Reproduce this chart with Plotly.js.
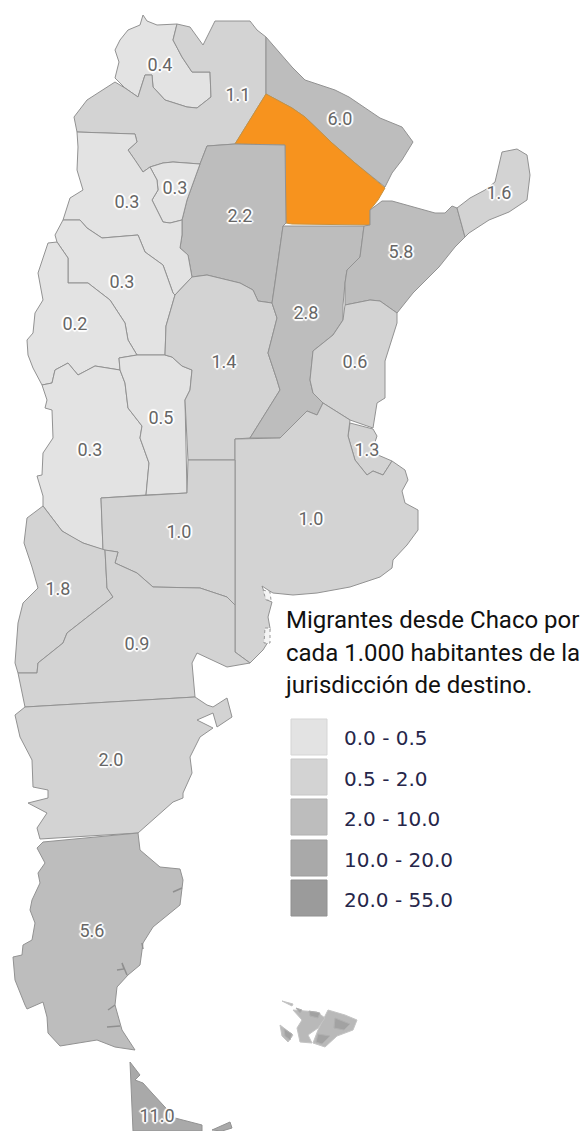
<!DOCTYPE html>
<html><head><meta charset="utf-8">
<script src="https://cdn.plot.ly/plotly-3.0.1.min.js"></script>
<style>html,body{margin:0;padding:0;background:#fff}#c{width:584px;height:1131px}</style>
</head><body><div id="c"></div>
<script>
// Map outlines, as [x,y] in the map's own planar coordinates.
const jujuy=[[143,15],[147,21],[157,25],[177,24],[173,40],[182,57],[192,72],[210,72],[211,97],[197,108],[187,107],[165,100],[153,87],[152,75],[145,75],[138,97],[125,88],[115,78],[119,62],[115,50],[120,40],[128,30],[140,25]];
const salta=[[177,24],[190,27],[203,45],[215,21],[250,21],[257,30],[266,37],[266,94],[235,144],[207,146],[200,164],[185,163],[173,162],[163,163],[150,167],[143,172],[135,160],[128,150],[137,142],[135,134],[77,132],[74,117],[87,100],[115,82],[125,88],[138,97],[145,75],[152,75],[153,87],[165,100],[187,107],[197,108],[211,97],[210,72],[192,72],[182,57],[173,40]];
const formosa=[[266,37],[292,67],[305,80],[335,90],[349,97],[380,118],[402,127],[413,142],[402,160],[392,173],[385,187],[355,163],[332,143],[305,117],[292,108],[266,94]];
const chaco=[[266,94],[292,108],[305,117],[332,143],[355,163],[385,188],[378,200],[370,210],[370,225],[292,224],[286,223],[285,145],[235,144]];
const santiago=[[207,146],[235,144],[285,145],[286,223],[283,226],[275,283],[272,303],[258,301],[253,290],[240,283],[207,275],[192,277],[188,255],[180,248],[182,235],[182,220],[187,200],[200,164]];
const tucuman=[[200,164],[185,163],[173,162],[163,163],[150,167],[157,180],[158,190],[152,200],[163,222],[170,223],[182,220],[187,200]];
const catamarca=[[77,132],[135,134],[137,142],[128,150],[135,160],[143,172],[150,167],[157,180],[158,190],[152,200],[163,222],[170,223],[182,220],[182,235],[180,248],[188,255],[192,277],[175,295],[173,293],[163,265],[145,252],[138,235],[102,238],[87,228],[80,220],[63,220],[70,198],[83,190],[77,170],[78,147]];
const larioja=[[63,220],[55,235],[57,242],[68,258],[68,283],[88,283],[110,300],[125,323],[128,340],[137,355],[165,355],[166,326],[175,295],[173,293],[163,265],[145,252],[138,235],[102,238],[87,228],[80,220]];
const sanjuan=[[48,243],[57,242],[68,258],[68,283],[88,283],[110,300],[125,323],[128,340],[137,355],[119,358],[120,370],[95,366],[78,375],[68,363],[55,370],[52,383],[42,385],[33,368],[28,355],[27,340],[33,333],[35,313],[43,300],[38,273]];
const mendoza=[[42,385],[47,400],[45,408],[52,410],[53,438],[43,453],[42,475],[37,476],[43,496],[43,506],[62,531],[75,539],[83,543],[103,550],[101,498],[146,495],[149,463],[140,438],[142,426],[128,408],[125,383],[120,370],[95,366],[78,375],[68,363],[55,370],[52,383]];
const sanluis=[[119,358],[137,355],[165,355],[172,357],[182,366],[192,370],[190,390],[185,400],[187,493],[146,495],[149,463],[140,438],[142,426],[128,408],[125,383],[120,370]];
const cordoba=[[175,295],[166,326],[165,355],[172,357],[182,366],[192,370],[190,390],[185,400],[188,460],[235,460],[235,439],[250,438],[280,390],[277,380],[268,353],[277,318],[272,303],[258,301],[253,290],[240,283],[207,275],[192,277]];
const santafe=[[283,226],[364,226],[360,257],[347,270],[345,283],[343,305],[343,320],[333,335],[323,343],[313,351],[310,380],[313,393],[323,403],[317,415],[307,411],[280,438],[250,438],[280,390],[277,380],[268,353],[277,318],[272,303],[275,283]];
const corrientes=[[364,226],[370,225],[370,210],[382,201],[392,201],[425,210],[435,213],[445,213],[452,206],[457,208],[465,237],[455,247],[439,267],[423,283],[413,293],[397,313],[380,301],[370,300],[345,305],[345,283],[347,270],[360,257]];
const misiones=[[457,208],[470,198],[485,190],[495,182],[502,152],[517,149],[527,155],[530,175],[527,200],[509,212],[489,220],[469,233],[465,237]];
const entrerios=[[345,305],[370,300],[380,301],[397,313],[397,323],[390,346],[385,361],[385,398],[377,403],[373,428],[350,420],[323,403],[313,393],[310,380],[313,351],[323,343],[333,335],[343,320]];
const gba=[[350,423],[373,429],[377,436],[374,445],[378,455],[392,461],[383,475],[373,471],[367,475],[355,460],[348,436]];
const buenosaires=[[235,439],[280,438],[307,411],[317,415],[323,403],[350,420],[348,436],[355,460],[367,475],[373,471],[383,475],[392,461],[405,470],[408,480],[402,491],[405,503],[418,510],[418,530],[407,545],[393,560],[392,568],[380,577],[350,587],[317,593],[293,595],[273,593],[268,590],[262,586],[267,600],[272,602],[268,617],[270,628],[268,642],[263,650],[250,663],[235,652]];
const lapampa=[[101,498],[187,493],[188,460],[235,460],[235,605],[227,597],[200,588],[153,587],[137,573],[115,563],[118,552],[103,550]];
const neuquen=[[43,506],[27,518],[24,543],[32,567],[38,588],[23,603],[18,623],[17,637],[15,663],[18,673],[37,673],[38,663],[63,643],[67,633],[113,597],[107,588],[105,550],[83,543],[62,531]];
const rionegro=[[105,550],[118,552],[115,563],[137,573],[153,587],[200,588],[227,597],[235,605],[235,652],[250,663],[227,667],[197,653],[192,663],[195,697],[25,707],[18,673],[37,673],[38,663],[63,643],[67,633],[113,597],[107,588]];
const chubut=[[25,707],[195,697],[207,705],[213,707],[227,698],[232,717],[217,727],[213,713],[197,720],[213,728],[200,737],[190,757],[192,773],[183,793],[183,798],[173,802],[138,833],[40,839],[37,828],[47,813],[28,803],[48,798],[48,790],[33,787],[32,760],[20,737],[15,715]];
const santacruz=[[138,833],[43,842],[37,848],[45,863],[38,873],[40,883],[32,900],[30,910],[35,923],[32,940],[23,945],[22,955],[13,957],[15,980],[25,1005],[27,1009],[43,1002],[47,1017],[48,1033],[60,1046],[97,1040],[115,1047],[135,1050],[122,1030],[115,1005],[117,987],[128,975],[140,965],[143,943],[153,927],[180,905],[183,880],[180,869],[160,867],[140,850]];
const tierradelfuego=[[130,1062],[140,1075],[135,1080],[143,1083],[152,1093],[175,1118],[202,1125],[202,1131],[133,1131]];
const estados=[[212,1130],[222,1126],[230,1122],[232,1128],[222,1131]];
const provinces=[jujuy,salta,formosa,chaco,santiago,tucuman,catamarca,larioja,sanjuan,mendoza,sanluis,cordoba,santafe,corrientes,misiones,entrerios,gba,buenosaires,lapampa,neuquen,rionegro,chubut,santacruz,tierradelfuego,estados];
const provinceValues=[0.4,1.1,6.0,null,2.2,0.3,0.3,0.3,0.2,0.3,0.5,1.4,2.8,5.8,1.6,0.6,1.3,1.0,1.0,1.8,0.9,2.0,5.6,11.0,11.0];

const estuaries=[[[173,892],[182,888]],[[117,970],[124,969],[122,963],[127,975]],[[108,1010],[115,1005]],[[107,1027],[120,1026]],[[142,943],[143,949]]];
const malvinasLight=[[[328,1010],[345,1015],[357,1020],[353,1030],[337,1036],[325,1047],[313,1043],[318,1030]],[[293,1010],[317,1012],[325,1018],[318,1028],[308,1035],[312,1043],[300,1042],[297,1028],[302,1020]],[[280,1025],[293,1035],[288,1042],[282,1036]],[[282,1001],[293,1004],[292,1006]]];
const malvinasDark=[[[309,1011],[320,1013],[318,1018],[310,1016]],[[335,1018],[350,1024],[344,1030],[334,1028]],[[318,1034],[330,1036],[322,1044],[316,1042]],[[296,1008],[302,1010],[300,1013]],[[284,1029],[292,1034],[290,1040],[285,1036]]];
const bayIslands=[[[265,628],[270,628],[270,643],[264,643]],[[263,590],[270,592],[271,600],[266,600]]];

const labelText=["0.4","1.1","6.0","0.3","0.3","2.2","1.6","5.8","0.3","0.2","1.4","2.8","0.6","0.5","0.3","1.3","1.0","1.0","1.8","0.9","2.0","5.6","11.0"];
const labelX=[160,238,340,127,175,240,499,401,122,75,224,306,355,161,90,367,179,311,58,137,111,92,157];
const labelY=[66,96,120,203,189,217,194,253,283,325,363,314,363,419,451,451,533,520,590,645,761,932,1117];

const legendLabels=["0.0 - 0.5","0.5 - 2.0","2.0 - 10.0","10.0 - 20.0","20.0 - 55.0"];
const legendColors=["#e3e3e3","#d3d3d3","#bdbdbd","#a9a9a9","#9b9b9b"];
const legendEdges=["#d5d5d5","#c6c6c6","#b0b0b0","#9d9d9d","#909090"];
const legendBreaks=[0.5,2,10,20,55];
const legendY=[737,777,817,858,898];
const legendTextY=[740,781,821,862,902];
const noteLines=["Migrantes desde Chaco por","cada 1.000 habitantes de la","jurisdicción de destino."];
const noteY=[622,655,687];

const chacoColor="#f7931e";
const colorOf=v=>v===null?chacoColor:legendColors[legendBreaks.findIndex(b=>v<=b)];
const ring=p=>p.concat([p[0]]);
const traces=provinces.map((p,i)=>({
  type:"scatter",mode:"lines",x:ring(p).map(c=>c[0]),y:ring(p).map(c=>c[1]),
  fill:"toself",fillcolor:colorOf(provinceValues[i]),
  line:{color:provinceValues[i]===null?"#c8923f":"#929292",width:1,shape:"linear"},hoverinfo:"skip",showlegend:false
}));
estuaries.forEach(e=>traces.push({type:"scatter",mode:"lines",x:e.map(c=>c[0]),y:e.map(c=>c[1]),line:{color:"#8f8f8f",width:1.5},hoverinfo:"skip",showlegend:false}));
malvinasLight.forEach(p=>traces.push({type:"scatter",mode:"lines",x:ring(p).map(c=>c[0]),y:ring(p).map(c=>c[1]),fill:"toself",fillcolor:"#b9b9b9",line:{color:"#c4c4c4",width:1},hoverinfo:"skip",showlegend:false}));
malvinasDark.forEach(p=>traces.push({type:"scatter",mode:"lines",x:ring(p).map(c=>c[0]),y:ring(p).map(c=>c[1]),fill:"toself",fillcolor:"#a2a2a2",line:{color:"#b0b0b0",width:1},hoverinfo:"skip",showlegend:false}));
bayIslands.forEach(p=>traces.push({type:"scatter",mode:"lines",x:ring(p).map(c=>c[0]),y:ring(p).map(c=>c[1]),fill:"toself",fillcolor:"#f4f4f4",line:{color:"#9a9a9a",width:1,dash:"dot"},hoverinfo:"skip",showlegend:false}));
traces.push({type:"scatter",mode:"text",x:labelX,y:labelY,text:labelText,textposition:"middle center",
  textfont:{family:"Roboto",size:18,color:"#666",shadow:"2px 0 1px #fff, -2px 0 1px #fff, 0 2px 1px #fff, 0 -2px 1px #fff, 1px 1px 1px #fff, -1px -1px 1px #fff, 1px -1px 1px #fff, -1px 1px 1px #fff"},hoverinfo:"skip",showlegend:false});
traces.push({type:"scatter",mode:"markers",x:legendY.map(()=>309),y:legendY,
  marker:{symbol:"square",size:36,color:legendColors,line:{color:legendEdges,width:1}},hoverinfo:"skip",showlegend:false});
traces.push({type:"scatter",mode:"text",x:legendY.map(()=>344),y:legendTextY,text:legendLabels,textposition:"middle right",
  textfont:{family:"DejaVu Sans",size:20,color:"#26264a"},hoverinfo:"skip",showlegend:false});
traces.push({type:"scatter",mode:"text",x:noteY.map(()=>286),y:noteY,text:noteLines,textposition:"middle right",
  textfont:{family:"Roboto",size:24,color:"#111"},hoverinfo:"skip",showlegend:false});

Plotly.newPlot("c",traces,{
  width:584,height:1131,margin:{l:0,r:0,t:0,b:0},paper_bgcolor:"#fff",plot_bgcolor:"#fff",showlegend:false,
  xaxis:{range:[0,584],visible:false,fixedrange:true},
  yaxis:{range:[1131,0],visible:false,fixedrange:true}
},{displayModeBar:false,staticPlot:true});
</script></body></html>
